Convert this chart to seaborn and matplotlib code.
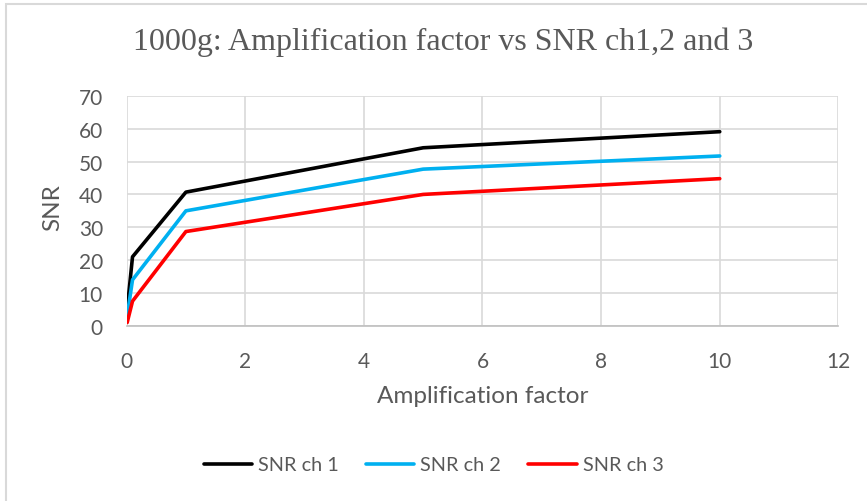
import pandas as pd
import seaborn as sns
import matplotlib.pyplot as plt
from matplotlib.patches import Rectangle

# values
amp = [0.01, 0.1, 1, 5, 10]
snr_ch1 = [5, 21, 40.7, 54.2, 59.1]
snr_ch2 = [3, 14, 35, 47.7, 51.7]
snr_ch3 = [1, 7.5, 28.7, 40, 44.8]
series = ['SNR ch 1', 'SNR ch 2', 'SNR ch 3']
colors = ['#000000', '#00B0F0', '#FF0000']
x_ticks = [0, 2, 4, 6, 8, 10, 12]
y_ticks = [0, 10, 20, 30, 40, 50, 60, 70]

df = pd.concat([
    pd.DataFrame({'amp': amp, 'snr': vals, 'series': name})
    for name, vals in zip(series, [snr_ch1, snr_ch2, snr_ch3])
])

sns.set_style("white")
plt.rcParams['font.family'] = ['Lato', 'DejaVu Sans']
grey = '#595959'

fig = plt.figure(figsize=(8.67, 5.02), dpi=100)
ax = fig.add_axes([0.146, 0.349, 0.821, 0.458])

sns.lineplot(data=df, x='amp', y='snr', hue='series', palette=colors,
             sort=False, estimator=None, linewidth=2.6, ax=ax)

ax.set_xlim(0, 12)
ax.set_ylim(0, 70)
ax.set_xticks(x_ticks)
ax.set_yticks(y_ticks)
ax.grid(True, color='#D9D9D9', linewidth=1.2)
ax.set_axisbelow(True)
for side in ['top', 'right', 'left']:
    ax.spines[side].set_visible(False)
ax.spines['bottom'].set_color('#BFBFBF')
ax.spines['bottom'].set_linewidth(1.2)
ax.tick_params(axis='both', length=0, labelsize=15, labelcolor=grey)
ax.tick_params(axis='y', pad=17)
ax.tick_params(axis='x', pad=18)

ax.set_xlabel('Amplification factor', fontsize=17.5, color=grey, labelpad=10)
ax.set_ylabel('SNR', fontsize=17.5, color=grey)
ax.yaxis.set_label_coords(-0.089, 0.52)

handles, labels = ax.get_legend_handles_labels()
ax.legend_.remove()
fig.legend(handles, labels, loc='center', bbox_to_anchor=(0.5, 1 - 466 / 502),
           ncol=3, frameon=False, fontsize=14.3, labelcolor=grey,
           handlelength=2.45, handletextpad=0.3, columnspacing=1.35)

fig.text(0.511, 1 - 42 / 502, '1000g: Amplification factor vs SNR ch1,2 and 3',
         ha='center', va='center', family='Liberation Serif', fontsize=23, color=grey)

fig.patches.append(Rectangle((6 / 867, -0.02), 1.0, 1 - 5 / 502 + 0.02,
                             transform=fig.transFigure, fill=False,
                             edgecolor='#D9D9D9', linewidth=1.5))

fig.savefig('out.png', dpi=100)
